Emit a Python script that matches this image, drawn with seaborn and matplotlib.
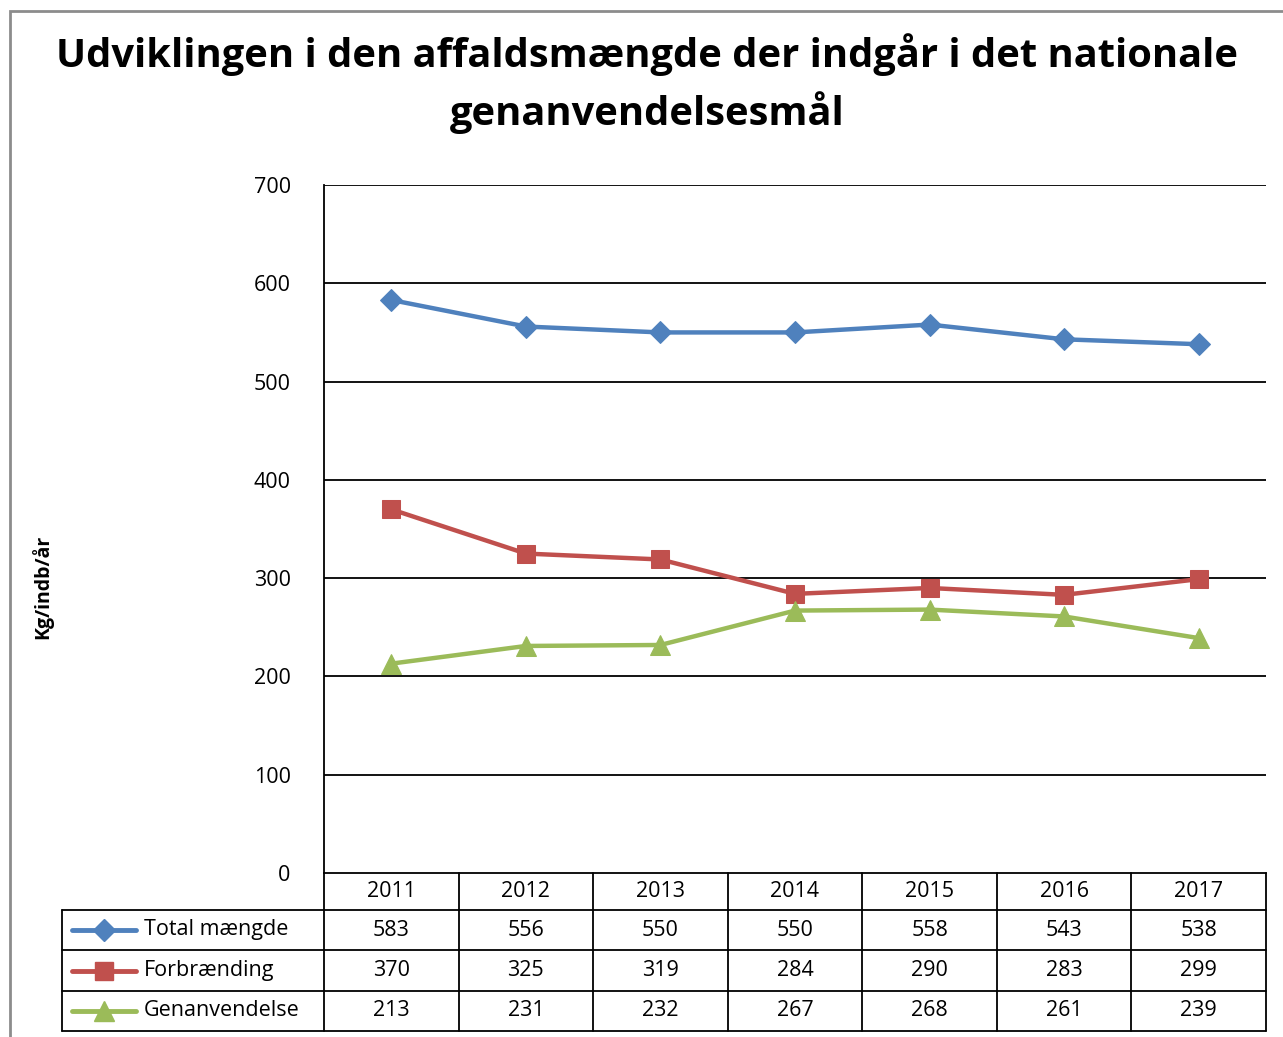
import matplotlib
matplotlib.use("Agg")
import matplotlib.pyplot as plt
import matplotlib.transforms as mtransforms
from matplotlib.patches import Rectangle
from matplotlib.lines import Line2D
import seaborn as sns
import pandas as pd

# data
years = [2011, 2012, 2013, 2014, 2015, 2016, 2017]
total = [583, 556, 550, 550, 558, 543, 538]
forbraending = [370, 325, 319, 284, 290, 283, 299]
genanvendelse = [213, 231, 232, 267, 268, 261, 239]
series_names = ["Total mængde", "Forbrænding", "Genanvendelse"]
yticks = [0, 100, 200, 300, 400, 500, 600, 700]

colors = ["#4F81BD", "#C0504D", "#9BBB59"]
markers = ["D", "s", "^"]
msizes = [11, 13, 14]

df = pd.DataFrame({
    "År": years * 3,
    "Værdi": total + forbraending + genanvendelse,
    "Serie": sum([[n] * len(years) for n in series_names], []),
})

sns.set_style("white")
plt.rcParams["font.family"] = ["Open Sans", "DejaVu Sans"]
plt.rcParams["text.color"] = "black"
plt.rcParams["ytick.color"] = "black"
plt.rcParams["ytick.labelcolor"] = "black"

W, H = 1283, 1037
fig = plt.figure(figsize=(W / 100, H / 100), dpi=100)
ax = fig.add_axes([324 / W, 1 - 873 / H, (1266 - 324) / W, (873 - 185) / H])

# outer chart frame
fig.patches.append(Rectangle((10 / W, -0.05), 1.1, 1.05 - 11 / H, transform=fig.transFigure,
                             fill=False, edgecolor="#8c8c8c", linewidth=2))

for name, c, m, ms in zip(series_names, colors, markers, msizes):
    sub = df[df["Serie"] == name]
    sns.lineplot(data=sub, x="År", y="Værdi", ax=ax, color=c, marker=m,
                 markersize=ms, markeredgecolor=c, linewidth=3.2, legend=False,
                 clip_on=False, zorder=3)

ax.set_xlim(years[0] - 0.5, years[-1] + 0.5)
ax.set_ylim(0, 700)
ax.set_yticks(yticks)
ax.set_yticklabels([str(t) for t in yticks], fontsize=15.5)
ax.tick_params(axis="y", length=0, pad=24)
ax.set_xticks([])
ax.set_xlabel("")
ax.set_ylabel("")
for t in yticks[1:]:
    ax.axhline(t, color="black", linewidth=1.3, zorder=1)
for s in ["top", "right"]:
    ax.spines[s].set_visible(False)
ax.spines["left"].set_linewidth(1.3)
ax.spines["bottom"].set_linewidth(1.3)
ax.spines["left"].set_color("black")
ax.spines["bottom"].set_color("black")

fig.text(42 / W, 1 - 587 / H, "Kg/indb/år", rotation=90, fontsize=14,
         fontweight="bold", ha="center", va="center")

fig.text(647 / W, 1 - 55 / H, "Udviklingen i den affaldsmængde der indgår i det nationale",
         fontsize=28.7, fontweight="bold", ha="center", va="center")
fig.text(647 / W, 1 - 113 / H, "genanvendelsesmål",
         fontsize=28.7, fontweight="bold", ha="center", va="center")

# data table under the axis
axh = 873 - 185
def yf(px):
    return (873 - px) / axh

def xf(px):
    return (px - 324) / (1266 - 324)

blend = mtransforms.blended_transform_factory(ax.transData, ax.transAxes)
lw = 1.3
row_edges = [873, 910, 950, 991, 1031]

# horizontal lines
for r in row_edges[1:]:
    ax.add_line(Line2D([xf(62), 1], [yf(r)] * 2, transform=ax.transAxes, color="black", lw=lw, clip_on=False))
ax.add_line(Line2D([xf(62), xf(62)], [yf(910), yf(1031)], transform=ax.transAxes,
                   color="black", lw=lw, clip_on=False))
ax.add_line(Line2D([0, 0], [yf(873), yf(1031)], transform=ax.transAxes,
                   color="black", lw=lw, clip_on=False))
# vertical column separators
for yr in years:
    ax.add_line(Line2D([yr + 0.5] * 2, [yf(873), yf(1031)], transform=blend,
                       color="black", lw=lw, clip_on=False))

# header and values
for yr in years:
    ax.text(yr, yf((873 + 910) / 2), str(yr), transform=blend, ha="center", va="center", fontsize=15.5)
rows = [total, forbraending, genanvendelse]
for k, vals in enumerate(rows):
    yc = yf((row_edges[k + 1] + row_edges[k + 2]) / 2)
    for yr, v in zip(years, vals):
        ax.text(yr, yc, str(v), transform=blend, ha="center", va="center", fontsize=15.5)
    # legend key
    ax.add_line(Line2D([xf(72), xf(136)], [yc, yc], transform=ax.transAxes, color=colors[k],
                       lw=3.5, clip_on=False))
    ax.add_line(Line2D([xf(104)], [yc], transform=ax.transAxes, color=colors[k], marker=markers[k],
                       markersize=msizes[k], markeredgecolor=colors[k], clip_on=False))
    ax.text(xf(144), yc, series_names[k], transform=ax.transAxes, ha="left", va="center", fontsize=15.5)

fig.savefig("out.png", dpi=100)
